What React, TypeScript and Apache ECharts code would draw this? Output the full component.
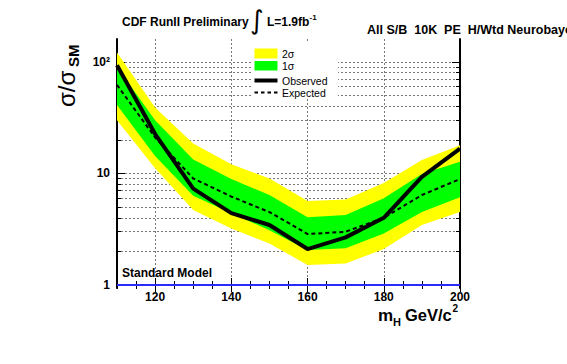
import React, { useEffect, useRef } from 'react';
import * as echarts from 'echarts';

// Higgs mass points (GeV/c^2)
const masses = [110, 120, 130, 140, 150, 160, 170, 180, 190, 200];
// 95% CL limits on sigma / sigma_SM
const observed = [93, 22.5, 7.3, 4.4, 3.45, 2.1, 2.67, 4.0, 9.3, 16.7];
const expected = [62, 21, 9.0, 6.2, 4.5, 2.86, 3.0, 4.0, 6.4, 8.9];
const band1Lo = [41, 14.3, 6.3, 4.4, 3.1, 2.06, 2.13, 2.9, 4.5, 6.1];
const band1Hi = [90, 30, 13.3, 8.9, 6.4, 4.04, 4.24, 6.0, 9.9, 12.7];
const band2Lo = [30, 11.1, 4.7, 3.2, 2.36, 1.51, 1.56, 2.1, 3.44, 4.5];
const band2Hi = [121, 39, 18.5, 12.1, 9.0, 5.65, 5.85, 8.2, 13.2, 17.9];
const smLevel = 1;

const xMin = 110;
const xMax = 200;
const yMin = 0.94;
const yMax = 160;
const xMajorTicks = [120, 140, 160, 180, 200];
const xMinorTicks = [110, 115, 120, 125, 130, 135, 140, 145, 150, 155, 160, 165, 170, 175, 180, 185, 190, 195, 200];
const yMajorTicks = [1, 10, 100];
const yMajorLabels = ['1', '10', '10²'];
const yMinorTicks = [1, 2, 3, 4, 5, 6, 7, 8, 9, 10, 20, 30, 40, 50, 60, 70, 80, 90, 100];

const lg = (v: number) => Math.log10(v);
const pts = (vals: number[]) => masses.map((m, i) => [m, lg(vals[i])]);

const FONT = '"Liberation Sans", Arial, Helvetica, sans-serif';
const GRID = { left: 117, right: 107, top: 39, bottom: 76 };

function bandSeries(name: string, lo: number[], hi: number[], color: string, z: number) {
  return {
    type: 'custom',
    name,
    silent: true,
    z,
    data: pts(hi),
    renderItem: (params: any, api: any) => {
      if (params.dataIndex !== 0) return null;
      const upper = masses.map((m, i) => api.coord([m, lg(hi[i])]));
      const lower = masses.map((m, i) => api.coord([m, lg(lo[i])])).reverse();
      return { type: 'polygon', shape: { points: [...upper, ...lower] }, style: { fill: color, stroke: 'none' } };
    },
  };
}

export default function App() {
  const ref = useRef<HTMLDivElement>(null);
  useEffect(() => {
    if (!ref.current) return;
    const chart = echarts.init(ref.current, undefined, { renderer: 'svg' });
    const gridLine = { show: true, lineStyle: { color: '#777', width: 1, type: [2, 2] as any } };
    const hidden = { show: false };
    const baseX = { type: 'value' as const, min: xMin, max: xMax, gridIndex: 0 };
    const baseY = { type: 'value' as const, min: lg(yMin), max: lg(yMax), gridIndex: 0 };
    const blackLine = { show: true, lineStyle: { color: '#000', width: 2 } };
    const tickStyle = { color: '#000', width: 1 };

    const option: any = {
      animation: false,
      backgroundColor: '#fff',
      grid: { ...GRID, containLabel: false },
      xAxis: [
        {
          ...baseX,
          position: 'bottom',
          axisLine: blackLine,
          axisTick: { show: true, inside: true, length: 7, customValues: xMajorTicks, lineStyle: tickStyle },
          axisLabel: { show: true, customValues: xMajorTicks, margin: 3, color: '#000', fontSize: 12, fontWeight: 'bold', fontFamily: FONT },
          splitLine: gridLine,
        },
        {
          ...baseX,
          position: 'bottom',
          axisLine: hidden,
          axisTick: { show: true, inside: true, length: 4, customValues: xMinorTicks, lineStyle: tickStyle },
          axisLabel: hidden,
          splitLine: hidden,
        },
        {
          ...baseX,
          position: 'top',
          axisLine: blackLine,
          axisTick: { show: true, inside: true, length: 7, customValues: xMajorTicks, lineStyle: tickStyle },
          axisLabel: hidden,
          splitLine: hidden,
        },
        {
          ...baseX,
          position: 'top',
          axisLine: hidden,
          axisTick: { show: true, inside: true, length: 4, customValues: xMinorTicks, lineStyle: tickStyle },
          axisLabel: hidden,
          splitLine: hidden,
        },
      ],
      yAxis: [
        {
          ...baseY,
          position: 'left',
          axisLine: blackLine,
          axisTick: { show: true, inside: true, length: 4, customValues: yMinorTicks.map(lg), lineStyle: tickStyle },
          axisLabel: {
            show: true,
            customValues: yMajorTicks.map(lg),
            margin: 7,
            color: '#000',
            fontSize: 12,
            fontWeight: 'bold',
            fontFamily: FONT,
            formatter: (v: number) => {
              const i = yMajorTicks.findIndex((t) => Math.abs(lg(t) - v) < 1e-6);
              return i >= 0 ? yMajorLabels[i] : '';
            },
          },
          splitLine: gridLine,
        },
        {
          ...baseY,
          position: 'left',
          axisLine: hidden,
          axisTick: { show: true, inside: true, length: 8, customValues: yMajorTicks.map(lg), lineStyle: tickStyle },
          axisLabel: hidden,
          splitLine: hidden,
        },
        {
          ...baseY,
          position: 'right',
          axisLine: blackLine,
          axisTick: { show: true, inside: true, length: 4, customValues: yMinorTicks.map(lg), lineStyle: tickStyle },
          axisLabel: hidden,
          splitLine: hidden,
        },
        {
          ...baseY,
          position: 'right',
          axisLine: hidden,
          axisTick: { show: true, inside: true, length: 8, customValues: yMajorTicks.map(lg), lineStyle: tickStyle },
          axisLabel: hidden,
          splitLine: hidden,
        },
      ],
      series: [
        bandSeries('2σ', band2Lo, band2Hi, '#ffff00', 2),
        bandSeries('1σ', band1Lo, band1Hi, '#00ff00', 3),
        {
          type: 'line', name: 'Expected', data: pts(expected), symbol: 'none',
          lineStyle: { color: '#000', width: 2, type: [4, 3] }, z: 4,
        },
        {
          type: 'line', name: 'Observed', data: pts(observed), symbol: 'none',
          lineStyle: { color: '#000', width: 4 }, z: 5,
          markLine: {
            silent: true, symbol: 'none', label: { show: false },
            lineStyle: { color: '#2a2aff', width: 2, type: 'solid' },
            data: [{ yAxis: lg(smLevel) }],
          },
        },
      ],
      graphic: [
        { type: 'text', x: 122, y: 22, style: { text: 'CDF RunII Preliminary', font: `bold 12px ${FONT}`, fill: '#000', textVerticalAlign: 'middle' } },
        { type: 'text', x: 250, y: 20, style: { text: '∫', font: `26px "DejaVu Sans", sans-serif`, fill: '#000', textVerticalAlign: 'middle' } },
        { type: 'text', x: 267, y: 22, style: { text: 'L=1.9fb', font: `bold 12px ${FONT}`, fill: '#000', textVerticalAlign: 'middle' } },
        { type: 'text', x: 309.5, y: 17, style: { text: '-1', font: `bold 8px ${FONT}`, fill: '#000', textVerticalAlign: 'middle' } },
        { type: 'text', x: 367, y: 30, style: { text: 'All S/B  10K  PE  H/Wtd Neurobayes', font: `bold 12.5px ${FONT}`, fill: '#000', textVerticalAlign: 'middle' } },
        // y-axis title (rotated)
        { type: 'text', x: 66, y: 107, rotation: Math.PI / 2, style: { text: 'σ/σ', font: `24px ${FONT}`, fill: '#000', textVerticalAlign: 'middle', textAlign: 'left' } },
        { type: 'text', x: 73, y: 67, rotation: Math.PI / 2, style: { text: 'SM', font: `bold 15px ${FONT}`, fill: '#000', textVerticalAlign: 'middle', textAlign: 'left' } },
        // x-axis title
        { type: 'text', x: 378, y: 315, style: { text: 'm', font: `bold 17px ${FONT}`, fill: '#000', textVerticalAlign: 'middle' } },
        { type: 'text', x: 393, y: 322, style: { text: 'H', font: `bold 11px ${FONT}`, fill: '#000', textVerticalAlign: 'middle' } },
        { type: 'text', x: 405, y: 315, style: { text: 'GeV/c', font: `bold 16.5px ${FONT}`, fill: '#000', textVerticalAlign: 'middle' } },
        { type: 'text', x: 452.5, y: 308.5, style: { text: '2', font: `bold 10px ${FONT}`, fill: '#000', textVerticalAlign: 'middle' } },
        // Standard Model label
        { type: 'text', x: 122, y: 273, style: { text: 'Standard Model', font: `bold 12px ${FONT}`, fill: '#000', textVerticalAlign: 'middle' } },
        // legend
        { type: 'rect', shape: { x: 251, y: 41, width: 87, height: 57 }, style: { fill: '#fff' }, z: 9 },
        { type: 'rect', shape: { x: 254.5, y: 48.5, width: 23, height: 10 }, style: { fill: '#ffff00' }, z: 10 },
        { type: 'rect', shape: { x: 254.5, y: 61, width: 23, height: 9.5 }, style: { fill: '#00ff00' }, z: 10 },
        { type: 'line', shape: { x1: 254.5, y1: 80.5, x2: 277.5, y2: 80.5 }, style: { stroke: '#000', lineWidth: 4 }, z: 10 },
        { type: 'line', shape: { x1: 254.5, y1: 92.5, x2: 277.5, y2: 92.5 }, style: { stroke: '#000', lineWidth: 2, lineDash: [3.5, 3] }, z: 10 },
        { type: 'text', x: 282, y: 54, style: { text: '2σ', font: `10.5px ${FONT}`, fill: '#000', textVerticalAlign: 'middle' }, z: 10 },
        { type: 'text', x: 282, y: 66, style: { text: '1σ', font: `10.5px ${FONT}`, fill: '#000', textVerticalAlign: 'middle' }, z: 10 },
        { type: 'text', x: 282, y: 81, style: { text: 'Observed', font: `10.5px ${FONT}`, fill: '#000', textVerticalAlign: 'middle' }, z: 10 },
        { type: 'text', x: 282, y: 92.5, style: { text: 'Expected', font: `10.5px ${FONT}`, fill: '#000', textVerticalAlign: 'middle' }, z: 10 },
      ],
    };
    chart.setOption(option);
    return () => chart.dispose();
  }, []);
  return <div ref={ref} style={{ position: 'fixed', left: 0, top: 0, width: 567, height: 364, background: '#fff' }} />;
}
